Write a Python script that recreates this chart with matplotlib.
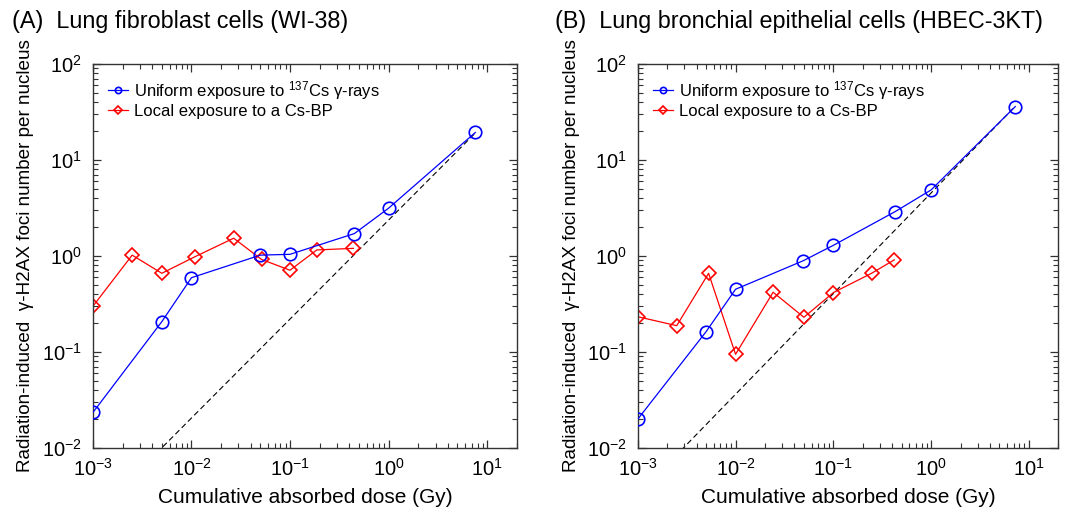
import numpy as np
import matplotlib
matplotlib.use("Agg")
import matplotlib.pyplot as plt
from matplotlib.ticker import LogLocator, NullFormatter

plt.rcParams['font.family'] = ['Liberation Sans', 'DejaVu Sans']
plt.rcParams['mathtext.fontset'] = 'custom'
plt.rcParams['mathtext.rm'] = 'Liberation Sans'
plt.rcParams['mathtext.default'] = 'regular'
plt.rcParams['axes.unicode_minus'] = False

# Panel A: WI-38
dose_uni_a = [0.001, 0.005, 0.01, 0.05, 0.1, 0.45, 1.0, 7.6]
foci_uni_a = [0.0235, 0.207, 0.594, 1.02, 1.04, 1.71, 3.14, 19.3]
dose_loc_a = [0.001, 0.0025, 0.005, 0.0108, 0.0268, 0.0514, 0.1, 0.187, 0.44]
foci_loc_a = [0.30, 1.02, 0.66, 0.98, 1.53, 0.92, 0.71, 1.155, 1.2]
fit_a = (2.36, 1.03)   # y = a * x**b

# Panel B: HBEC-3KT
dose_uni_b = [0.001, 0.005, 0.01, 0.049, 0.1, 0.43, 1.0, 7.26]
foci_uni_b = [0.020, 0.163, 0.45, 0.89, 1.29, 2.9, 4.87, 35.9]
dose_loc_b = [0.001, 0.0025, 0.0053, 0.01, 0.0242, 0.05, 0.1, 0.246, 0.42]
foci_loc_b = [0.233, 0.188, 0.66, 0.0946, 0.419, 0.23, 0.415, 0.66, 0.91]
fit_b = (4.53, 1.048)

titles = ["(A)  Lung fibroblast cells (WI-38)",
          "(B)  Lung bronchial epithelial cells (HBEC-3KT)"]
lbl_uni = "Uniform exposure to $^{137}$Cs \u03b3-rays"
lbl_loc = "Local exposure to a Cs-BP"

fig = plt.figure(figsize=(10.81, 5.15), dpi=100)
axes = [fig.add_axes([0.086, 0.130, 0.392, 0.746]),
        fig.add_axes([0.590, 0.130, 0.389, 0.746])]
title_x = [0.011, 0.513]

panels = [(dose_uni_a, foci_uni_a, dose_loc_a, foci_loc_a, fit_a),
          (dose_uni_b, foci_uni_b, dose_loc_b, foci_loc_b, fit_b)]

for ax, (du, fu, dl, fl, fit), title, tx in zip(axes, panels, titles, title_x):
    xs = np.logspace(-3, np.log10(du[-1]), 50)
    ax.plot(xs, fit[0] * xs ** fit[1], color='black', lw=0.8, ls=(0, (5, 3)), zorder=1)
    ax.plot(du, fu, color='#0000ff', lw=0.9, marker='o', ms=9, mfc='none',
            mew=1.2, label=lbl_uni, zorder=3)
    ax.plot(dl, fl, color='#ff0000', lw=0.9, marker='D', ms=7.5, mfc='none',
            mew=1.2, label=lbl_loc, zorder=2)
    ax.set_xscale('log')
    ax.set_yscale('log')
    ax.set_xlim(1e-3, 20)
    ax.set_ylim(1e-2, 1e2)
    ax.xaxis.set_minor_locator(LogLocator(base=10, subs=np.arange(2, 10)))
    ax.yaxis.set_minor_locator(LogLocator(base=10, subs=np.arange(2, 10)))
    ax.xaxis.set_minor_formatter(NullFormatter())
    ax.yaxis.set_minor_formatter(NullFormatter())
    ax.tick_params(which='both', direction='in', top=True, right=True,
                   labelsize=14.5, color='#333333')
    ax.tick_params(which='major', length=6, width=0.9)
    ax.tick_params(axis='y', which='major', pad=8)
    ax.tick_params(axis='x', which='major', pad=7)
    ax.tick_params(which='minor', length=3.5, width=0.8)
    for s in ax.spines.values():
        s.set_linewidth(1.0)
        s.set_color('#333333')
    ax.set_xlabel("Cumulative absorbed dose (Gy)", fontsize=15, labelpad=6)
    ax.set_ylabel("Radiation-induced  \u03b3-H2AX foci number per nucleus",
                  fontsize=13.6)
    ax.yaxis.set_label_coords(-0.138, 0.50)
    ax.legend(loc='upper left', frameon=False, fontsize=12, markerscale=0.5,
              handlelength=1.2, handletextpad=0.35, labelspacing=0.15,
              borderaxespad=0.5)
    fig.text(tx, 0.946, title, fontsize=16.8, ha='left', va='baseline')

fig.savefig("out.png", dpi=100)
